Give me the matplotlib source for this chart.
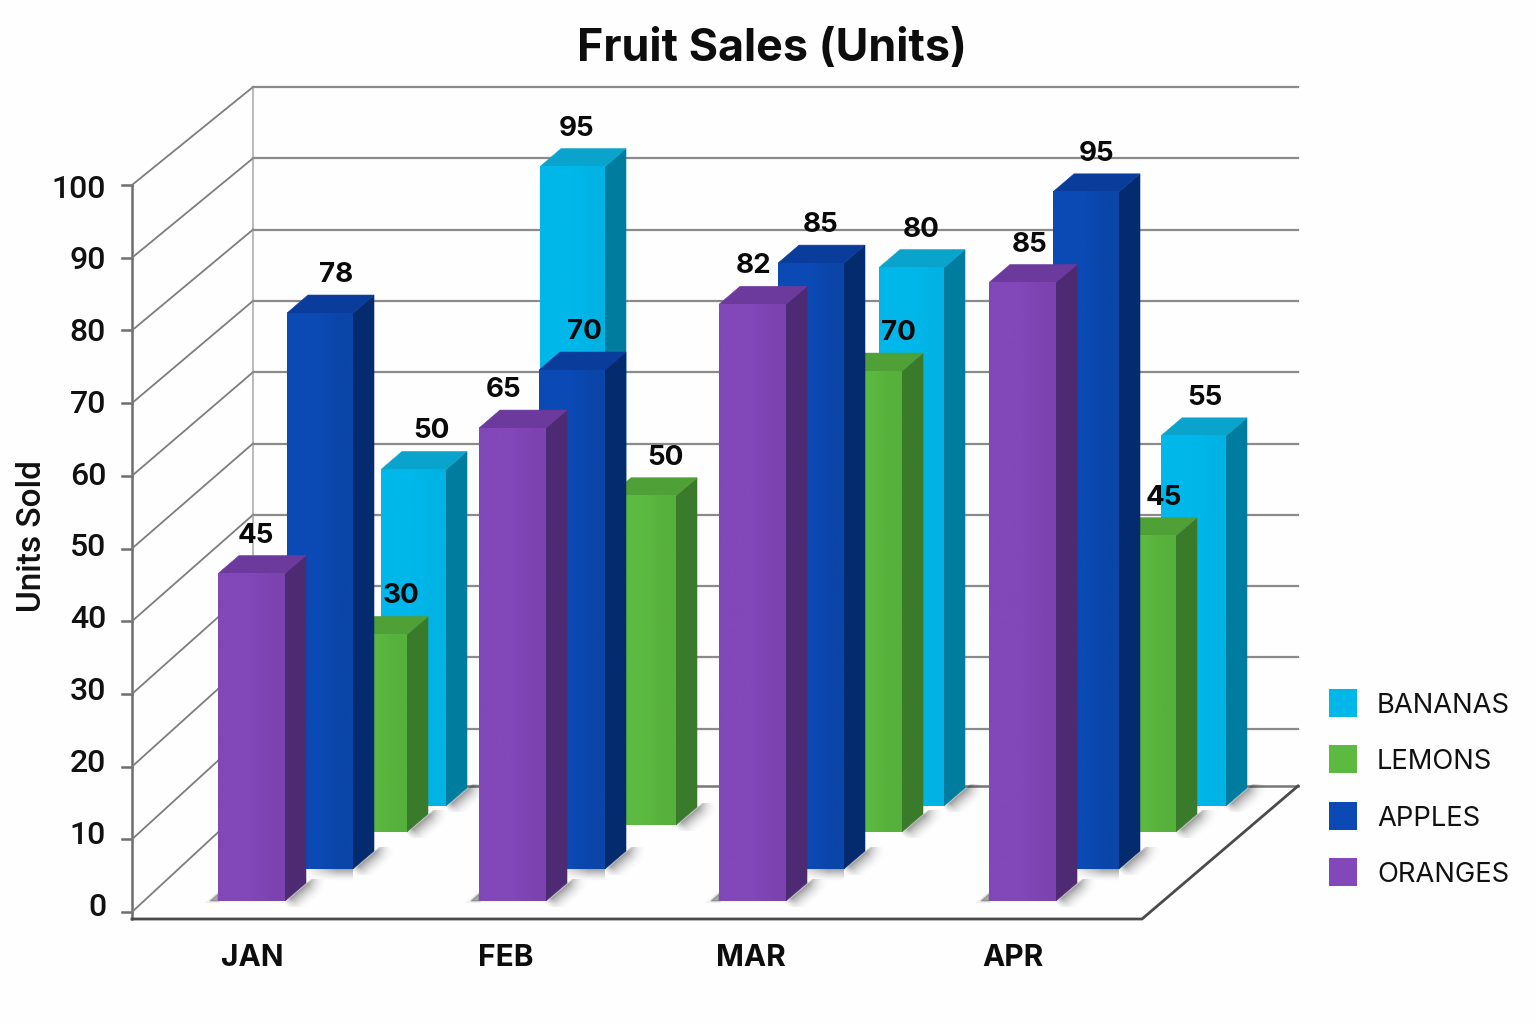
import numpy as np
import matplotlib
matplotlib.use("Agg")
import matplotlib.pyplot as plt
from matplotlib.colors import to_rgb
from matplotlib.patches import Polygon, Rectangle

months = ["JAN", "FEB", "MAR", "APR"]
bananas = [50, 95, 80, 55]
lemons = [30, 50, 70, 45]
apples = [78, 70, 85, 95]
oranges = [45, 65, 82, 85]
y_ticks = [0, 10, 20, 30, 40, 50, 60, 70, 80, 90, 100]

FONT = ["Inter", "DejaVu Sans"]
FONT_MEDIUM = ["Roboto", "DejaVu Sans"]
DEPTH_X, DEPTH_Y = 21, 18

# back to front: values, left edges, width, floor line, px per unit, label x, colours
series = [
	("BANANAS", bananas, [381, 540, 879, 1161], 65, [806] * 4, 6.73, [431, 577, 921, 1205],
		("#00b7ea", "#00b3e4", "#007c9f", "#0aa3cb")),
	("LEMONS", lemons, [341, 610, 836, 1110], 66, [832, 825, 832, 832], 6.585, [401, 665, 898, 1164],
		("#5dba41", "#56b03c", "#3a7b2b", "#4fa036")),
	("APPLES", apples, [287, 539, 778, 1053], 66, [869] * 4, 7.128, [336, 584, 821, 1097],
		("#0b4ab4", "#0a45a8", "#052b6f", "#0a3d9b")),
	("ORANGES", oranges, [218, 479, 719, 989], 67, [901] * 4, 7.276, [256, 504, 754, 1030],
		("#8247b8", "#7c43b0", "#4e2a72", "#6b3a9c")),
]


def tick_y(value):
	return 912 - 7.27 * value


def wall_y(value):
	return 87 + (100 - value) * 7.13


def soft_layer(ax, alpha, extent, zorder):
	img = np.zeros(alpha.shape + (4,))
	img[..., 3] = alpha
	ax.imshow(img, extent=extent, aspect="auto", interpolation="bilinear", zorder=zorder)


def draw_shadow(ax, x, width, base, zorder, under=False):
	# soft wedge fanning out from the bottom edge of the side face
	x0, y0 = x + width, base
	x1, y1 = x0 + DEPTH_X + 34, base - DEPTH_Y - 4
	xx, yy = np.meshgrid(np.arange(x0, x1), np.arange(y1, y0 + 6))
	length = np.hypot(DEPTH_X, DEPTH_Y)
	rel_x, rel_y = xx - x0, yy - y0
	dist = (rel_x * DEPTH_Y + rel_y * DEPTH_X) / length
	along = (rel_x * DEPTH_X - rel_y * DEPTH_Y) / length ** 2
	alpha = 0.42 * np.clip(1 - dist / 19, 0, 1) ** 2 * np.clip(dist / 2 + 0.5, 0, 1)
	alpha = alpha * np.clip((1.6 - along) / 0.6, 0, 1) * np.clip(along / 0.3 + 0.2, 0, 1)
	soft_layer(ax, alpha, (x0, x1, y0 + 6, y1), zorder)

	# small pointed shadow on the left of the base
	for lw, strength in ((3, 0.06), (1.5, 0.1), (0.3, 0.16)):
		ax.add_patch(Polygon([(x - 8, base), (x, base - 7), (x, base)], closed=True, facecolor="black",
			edgecolor="black", alpha=strength, lw=lw, zorder=zorder))

	# light strip falling off below the front face
	if under:
		xs = np.linspace(0, 1, 40)
		ys = np.linspace(1, 0, 12)
		soft_layer(ax, 0.35 * np.outer(ys ** 1.5, np.clip(xs * 1.5, 0, 1)), (x + 18, x + width, base + 13, base), zorder)


def draw_bar(ax, x, width, base, height, colours, zorder):
	front_l, front_r, side, top = colours
	y_top = base - height
	ramp = np.array([[to_rgb(front_l), to_rgb(front_l), to_rgb(front_r)]])
	ax.imshow(ramp, extent=(x, x + width, base, y_top), aspect="auto", interpolation="bilinear", zorder=zorder + 0.2)
	ax.add_patch(Polygon(
		[(x + width, base), (x + width + DEPTH_X, base - DEPTH_Y),
			(x + width + DEPTH_X, y_top - DEPTH_Y), (x + width, y_top)],
		closed=True, facecolor=side, edgecolor=side, lw=0.4, zorder=zorder + 0.1))
	ax.add_patch(Polygon(
		[(x, y_top), (x + width, y_top), (x + width + DEPTH_X, y_top - DEPTH_Y), (x + DEPTH_X, y_top - DEPTH_Y)],
		closed=True, facecolor=top, edgecolor=top, lw=0.4, zorder=zorder + 0.1))


fig = plt.figure(figsize=(15.36, 10.24), dpi=100, facecolor="#fefefe")
ax = fig.add_axes([0, 0, 1, 1])
ax.set_axis_off()

# walls and floor
grid_col = "#8a8a8a"
ax.plot([253, 253], [87, 800], color="#b4b4b4", lw=1.3, zorder=1)
ax.plot([132, 132], [tick_y(100), 919], color="#6e6e6e", lw=1.8, zorder=1)
for value in y_ticks:
	ax.plot([122, 132], [tick_y(value)] * 2, color="#6e6e6e", lw=1.8, zorder=1)
	ax.plot([132, 253], [tick_y(value), wall_y(value)], color="#7d7d7d", lw=1.3, zorder=1)
	if value > 0:
		ax.plot([253, 1298], [wall_y(value)] * 2, color=grid_col, lw=1.6, zorder=1)
	ax.text(106, 907 - 7.18 * value, str(value), ha="right", va="center", fontsize=23,
		family=FONT_MEDIUM, weight="medium", color="#111111")
ax.plot([253, 1298], [786, 786], color="#777777", lw=1.8, zorder=1)
ax.plot([132, 1142, 1298], [919, 919, 786], color="#4a4a4a", lw=2, zorder=1, solid_joinstyle="miter")

for i, (name, values, lefts, width, bases, scale, label_x, colours) in enumerate(series):
	z = 2 + i * 2
	for j, value in enumerate(values):
		height = value * scale
		draw_shadow(ax, lefts[j], width, bases[j], z, under=name == "APPLES")
		draw_bar(ax, lefts[j], width, bases[j], height, colours, z)
		ax.text(label_x[j], bases[j] - height - 38, str(value), ha="center", va="center", fontsize=20,
			family=FONT, weight="bold", color="#0a0a0a", zorder=12)

for label, x in zip(months, [252, 506, 751, 1013]):
	ax.text(x, 958, label, ha="center", va="center", fontsize=21.5, family=FONT, weight="bold", color="#0d0d0d")

ax.text(772, 49, "Fruit Sales (Units)", ha="center", va="center", fontsize=32.3, family=FONT, weight="bold", color="#0d0d0d")
ax.text(32, 536, "Units Sold", ha="center", va="center", rotation=90, fontsize=24, family=FONT_MEDIUM, weight="medium", color="#111111")

# legend, top entry is the rearmost series
for k, (name, *_, colours) in enumerate(series):
	y = 703 + k * 56.4
	ax.add_patch(Rectangle((1329, y - 14), 28, 28, facecolor=colours[0], edgecolor="none", zorder=3))
	ax.text(1377, y + 3, name, ha="left", va="center", fontsize=19.7, family=FONT, color="#111111")

ax.set_xlim(0, 1536)
ax.set_ylim(1024, 0)
fig.savefig("out.png", dpi=100, facecolor=fig.get_facecolor())
